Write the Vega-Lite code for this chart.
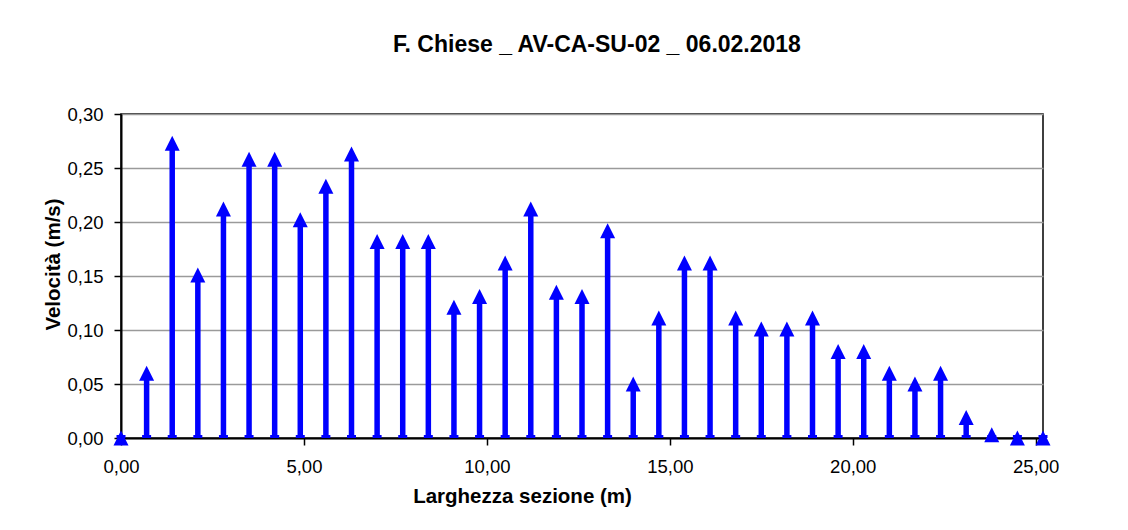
{
  "$schema": "https://vega.github.io/schema/vega-lite/v6.json",
  "width": 922,
  "height": 324,
  "autosize": "none",
  "padding": {"left": 121, "top": 114, "right": 85, "bottom": 92},
  "background": "white",
  "title": {
    "text": "F. Chiese _ AV-CA-SU-02 _ 06.02.2018",
    "font": "Liberation Sans",
    "fontSize": 23,
    "fontWeight": "bold",
    "color": "black",
    "baseline": "alphabetic",
    "offset": 30,
    "dx": 15
  },
  "data": {
    "values": [
      {"larghezza": 0.0, "velocita": 0.0},
      {"larghezza": 0.7, "velocita": 0.06},
      {"larghezza": 1.4, "velocita": 0.273},
      {"larghezza": 2.1, "velocita": 0.151},
      {"larghezza": 2.8, "velocita": 0.212},
      {"larghezza": 3.5, "velocita": 0.258},
      {"larghezza": 4.2, "velocita": 0.258},
      {"larghezza": 4.9, "velocita": 0.202},
      {"larghezza": 5.6, "velocita": 0.233},
      {"larghezza": 6.3, "velocita": 0.263},
      {"larghezza": 7.0, "velocita": 0.182},
      {"larghezza": 7.7, "velocita": 0.182},
      {"larghezza": 8.4, "velocita": 0.182},
      {"larghezza": 9.1, "velocita": 0.121},
      {"larghezza": 9.8, "velocita": 0.131},
      {"larghezza": 10.5, "velocita": 0.162},
      {"larghezza": 11.2, "velocita": 0.212},
      {"larghezza": 11.9, "velocita": 0.135},
      {"larghezza": 12.6, "velocita": 0.131},
      {"larghezza": 13.3, "velocita": 0.192},
      {"larghezza": 14.0, "velocita": 0.05},
      {"larghezza": 14.7, "velocita": 0.111},
      {"larghezza": 15.4, "velocita": 0.162},
      {"larghezza": 16.1, "velocita": 0.162},
      {"larghezza": 16.8, "velocita": 0.111},
      {"larghezza": 17.5, "velocita": 0.101},
      {"larghezza": 18.2, "velocita": 0.101},
      {"larghezza": 18.9, "velocita": 0.111},
      {"larghezza": 19.6, "velocita": 0.08},
      {"larghezza": 20.3, "velocita": 0.08},
      {"larghezza": 21.0, "velocita": 0.06},
      {"larghezza": 21.7, "velocita": 0.05},
      {"larghezza": 22.4, "velocita": 0.06},
      {"larghezza": 23.1, "velocita": 0.019},
      {"larghezza": 23.8, "velocita": 0.003},
      {"larghezza": 24.5, "velocita": 0.0},
      {"larghezza": 25.2, "velocita": 0.0}
    ]
  },
  "encoding": {
    "x": {
      "field": "larghezza",
      "type": "quantitative",
      "scale": {"domain": [0, 25.2], "nice": false, "zero": false},
      "axis": {
        "values": [0, 5, 10, 15, 20, 25],
        "labelExpr": "replace(format(datum.value, '.2f'), '.', ',')",
        "labelFlush": false,
        "title": "Larghezza sezione (m)",
        "grid": false,
        "tickSize": 7,
        "labelPadding": 12,
        "titlePadding": 11,
        "titleX": 401
      }
    }
  },
  "layer": [
    {
      "mark": {"type": "rule", "color": "#0000FF", "strokeWidth": 5.5},
      "encoding": {
        "y": {
          "field": "velocita",
          "type": "quantitative",
          "scale": {"domain": [0, 0.3], "nice": false},
          "axis": {
            "values": [0, 0.05, 0.1, 0.15, 0.2, 0.25, 0.3],
            "labelExpr": "replace(format(datum.value, '.2f'), '.', ',')",
            "labelFlush": false,
            "title": "Velocità (m/s)",
            "grid": true,
            "tickSize": 7,
            "labelPadding": 11,
            "titlePadding": 3,
            "titleY": 150
          }
        },
        "y2": {"datum": 0}
      }
    },
    {
      "mark": {"type": "tick", "color": "#0000FF", "orient": "horizontal", "size": 9, "thickness": 3, "yOffset": -1.5, "opacity": 1},
      "encoding": {
        "y": {"datum": 0, "type": "quantitative"}
      }
    },
    {
      "mark": {
        "type": "point",
        "shape": "M-1,1L1,1L0,-1Z",
        "size": 225,
        "filled": true,
        "color": "#0000FF",
        "opacity": 1
      },
      "encoding": {
        "y": {"field": "velocita", "type": "quantitative"}
      }
    }
  ],
  "config": {
    "font": "Liberation Sans",
    "view": {"stroke": "black", "strokeWidth": 1.5},
    "axis": {
      "labelFont": "Liberation Sans",
      "labelFontSize": 18.5,
      "labelColor": "black",
      "titleFont": "Liberation Sans",
      "titleFontSize": 20.5,
      "titleFontWeight": "bold",
      "titleColor": "black",
      "domainColor": "black",
      "domainWidth": 2,
      "tickColor": "black",
      "tickWidth": 1.5,
      "gridColor": "#9a9a9a",
      "gridWidth": 1.5,
      "gridOpacity": 1
    }
  }
}
